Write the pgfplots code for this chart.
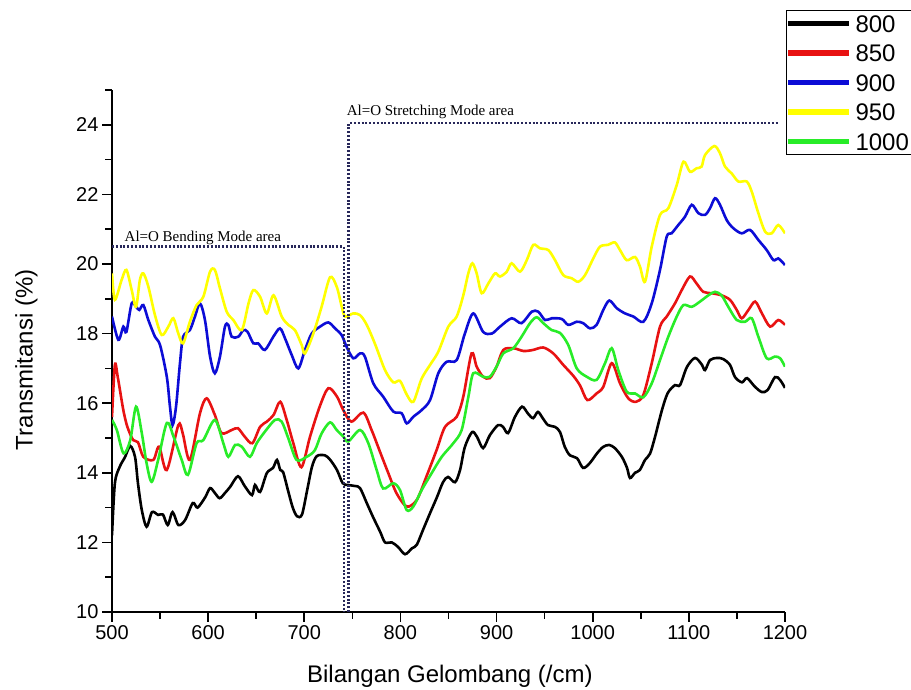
\documentclass[border=0pt]{standalone}
\usepackage{fontspec}
\setmainfont{Liberation Sans}
\newfontfamily\timesfont{Liberation Serif}
\usepackage{pgfplots}
\pgfplotsset{compat=1.18}
\definecolor{c800}{RGB}{0,0,0}
\definecolor{c850}{RGB}{232,18,18}
\definecolor{c900}{RGB}{12,12,214}
\definecolor{c950}{RGB}{255,255,0}
\definecolor{c1000}{RGB}{40,236,40}
\definecolor{dotc}{RGB}{40,40,90}
\begin{document}
\begin{tikzpicture}[x=1pt,y=1pt]
\useasboundingbox (0,0) rectangle (911,690);
\begin{axis}[
  at={(112pt,78pt)}, anchor=south west,
  scale only axis, width=673pt, height=522pt,
  xmin=500, xmax=1200, ymin=10, ymax=25,
  axis x line*=bottom, axis y line*=left,
  axis line style={line width=1.9pt, -},
  xtick={500,600,...,1200}, minor xtick={550,650,...,1150},
  ytick={10,12,...,24}, minor ytick={11,13,...,25},
  tick align=outside, major tick length=10pt, minor tick length=7pt,
  every tick/.style={line width=1.7pt, black},
  minor tick style={line width=1.7pt, black},
  ticklabel style={font=\fontsize{20}{20}\selectfont},
  /pgf/number format/assume math mode=true,
  /pgf/number format/1000 sep={},
  xlabel={Bilangan Gelombang (/cm)},
  ylabel={Transmitansi (\%)},
  label style={font=\fontsize{24}{24}\selectfont},
  xlabel style={at={(axis description cs:0.502,-0.136)}, anchor=base},
  ylabel style={at={(axis description cs:-0.118,0.483)}, anchor=base, rotate=0},
  legend cell align=left,
  legend image code/.code={\fill[#1] (0pt,-1.4pt) rectangle (58pt,1.4pt);},
  legend style={at={(1.0015,0.8755)}, anchor=south west, draw=black, line width=0.8pt,
    font=\fontsize{24}{24}\selectfont, inner xsep=2pt, inner ysep=3pt,
    row sep=9.5pt,
    nodes={inner sep=1.5pt, text height=17pt, text depth=0pt},
    /tikz/every odd column/.append style={column sep=5pt}},
  every axis plot/.append style={line width=2.6pt},
]
\addplot[c800, smooth, tension=0.5] coordinates {
(500,12.2) (503,13.7) (508,14.17) (513.5,14.45) (519,14.77) (524,14.45) (527,13.7) (531,12.93) (536,12.45) (541.6,12.87) (548,12.79) (553,12.8) (558,12.5) (563,12.87) (569,12.5) (576,12.64) (584,13.13) (589,13.0) (597,13.3) (602,13.56) (607,13.42) (612,13.27) (617.5,13.42) (623,13.6) (631,13.9) (638,13.62) (645.6,13.36) (648.7,13.65) (654,13.45) (661,13.99) (667.5,14.14) (671.6,14.37) (675,14.08) (678,14.02) (683,13.5) (688,13.0) (692.5,12.75) (697.6,12.8) (703,13.5) (708,14.17) (713,14.48) (721.6,14.5) (727,14.37) (734,14.08) (740,13.7) (745.5,13.65) (752.8,13.62) (758,13.56) (765,13.13) (771.5,12.73) (779,12.3) (784,12.0) (791,12.0) (797.5,11.87) (804.8,11.66) (812,11.83) (817,11.93) (823.5,12.36) (830.8,12.84) (838,13.3) (844.3,13.73) (849.5,13.88) (856.8,13.73) (862,14.08) (867,14.74) (874.5,15.17) (879.7,15.03) (886,14.71) (893,15.08) (901.5,15.37) (906.7,15.32) (912,15.14) (919,15.6) (926.5,15.9) (932.7,15.7) (938,15.57) (943,15.75) (948,15.57) (953.5,15.37) (960.8,15.32) (966,15.17) (971,14.74) (976.4,14.5) (983.7,14.42) (990,14.14) (997,14.28) (1004.5,14.56) (1010.7,14.74) (1017,14.8) (1023,14.71) (1030.5,14.45) (1035.7,14.14) (1038.8,13.85) (1044,14.0) (1049,14.08) (1054.4,14.37) (1059.6,14.55) (1064.8,15.03) (1072,15.8) (1078,16.29) (1085.6,16.52) (1090.8,16.52) (1098,17.04) (1106.4,17.3) (1113.7,17.1) (1116.8,16.95) (1122,17.24) (1129.3,17.3) (1135.6,17.27) (1142.8,17.1) (1148,16.75) (1155.3,16.6) (1160.5,16.72) (1168.8,16.47) (1176,16.32) (1182,16.38) (1189.6,16.75) (1194.8,16.67) (1200,16.44)
};
\addlegendentry{800}
\addplot[c850, smooth, tension=0.5] coordinates {
(500,15.6) (503,17.1) (506,16.75) (511.8,15.8) (516,15.32) (522,14.94) (527,14.88) (532.6,14.46) (543,14.37) (549,14.75) (557,14.08) (569,15.37) (573.5,15.14) (581,14.37) (591.5,15.71) (598.5,16.14) (607,15.66) (614,15.14) (624.5,15.23) (631,15.28) (638,15.04) (646,14.85) (654,15.32) (661,15.47) (668,15.66) (675,16.04) (681.7,15.52) (688.6,14.85) (697,14.16) (706,15.04) (716,15.9) (725,16.43) (734,16.19) (740.6,15.8) (749,15.47) (761.4,15.73) (770,15.23) (778.8,14.6) (787.4,13.99) (796,13.41) (806.5,13.03) (817,13.22) (827,13.89) (837.7,14.66) (846.4,15.32) (858.5,15.61) (865.4,16.19) (874,17.43) (879.3,17.05) (886,16.76) (893,16.72) (900,17.05) (907,17.53) (917.4,17.58) (928,17.5) (938,17.53) (948.6,17.6) (959,17.43) (969.4,17.1) (980,16.78) (987,16.5) (994.4,16.09) (1004,16.28) (1011,16.47) (1019.8,17.15) (1028.4,16.57) (1037,16.14) (1045,16.04) (1052.7,16.24) (1061.4,17.15) (1070,18.2) (1077,18.49) (1085.6,18.87) (1092.6,19.25) (1101.2,19.64) (1108,19.44) (1115,19.2) (1123.8,19.16) (1134,19.1) (1142.8,18.97) (1149.8,18.68) (1155,18.44) (1162,18.68) (1169,18.92) (1176,18.58) (1184.5,18.2) (1193,18.39) (1200,18.25)
};
\addlegendentry{850}
\addplot[c900, smooth, tension=0.5] coordinates {
(500,18.49) (506.6,17.82) (511.8,18.2) (515,18.05) (520.5,18.87) (525,18.77) (528.4,18.68) (532.6,18.82) (537.8,18.39) (544.7,17.91) (550,17.67) (557,16.76) (560.3,15.9) (563,15.37) (566.6,15.9) (570.7,17.15) (574,17.91) (581,18.1) (586.3,18.49) (591.5,18.87) (596.7,18.39) (602,17.34) (607,16.86) (612.3,17.34) (617.5,18.2) (621,18.25) (624.5,17.91) (631.4,17.91) (636.6,18.1) (641,18.05) (647,17.72) (652,17.72) (659,17.53) (667.8,17.91) (674.7,18.15) (680,17.86) (687,17.38) (693.8,17.0) (700.7,17.53) (707.7,18.0) (716.4,18.2) (725,18.32) (732,18.15) (739,17.95) (744,17.62) (751,17.29) (758,17.43) (763,17.34) (771.8,16.57) (782,16.19) (792.6,15.76) (801.3,15.71) (806.5,15.42) (813.4,15.61) (822,15.8) (830.8,16.09) (839.4,16.86) (848,17.19) (858.5,17.24) (867,18.0) (875.8,18.58) (886,18.05) (895,18.0) (903.6,18.2) (915.7,18.44) (926,18.3) (936.6,18.63) (943.4,18.63) (950.4,18.39) (957.4,18.44) (967.8,18.42) (974.6,18.25) (983.4,18.34) (990,18.3) (997.2,18.15) (1004,18.25) (1011,18.68) (1017.3,18.95) (1025,18.73) (1033.6,18.58) (1042.3,18.49) (1052.7,18.34) (1061.4,18.87) (1070,19.83) (1077,20.79) (1082,20.88) (1089,21.12) (1096,21.36) (1103,21.7) (1109.9,21.46) (1116.8,21.41) (1122,21.6) (1127.2,21.89) (1132.4,21.7) (1139.4,21.26) (1146.2,21.03) (1155,20.88) (1163.6,20.98) (1172.3,20.69) (1181,20.4) (1188,20.11) (1193,20.16) (1200,19.97)
};
\addlegendentry{900}
\addplot[c950, smooth, tension=0.5] coordinates {
(500,19.73) (503,18.97) (510,19.54) (515,19.83) (520.5,19.25) (525,18.77) (529,19.54) (532.6,19.73) (537.8,19.35) (544.7,18.53) (551.7,17.96) (558.6,18.2) (563.8,18.44) (569,18.0) (574,17.72) (581,18.34) (588,18.82) (595,19.06) (602,19.78) (607,19.83) (612.3,19.3) (619.3,18.63) (626.2,18.39) (635,18.1) (642,18.87) (647,19.25) (654,19.06) (661,18.58) (668,19.1) (676.5,18.49) (683.4,18.25) (690.3,18.1) (697.3,17.67) (700.7,17.43) (709.4,18.0) (718,18.77) (726.8,19.62) (733.7,19.35) (739,18.77) (742.4,18.49) (751,18.58) (758,18.53) (765,18.25) (773.6,17.7) (784,16.95) (792.6,16.6) (799.6,16.64) (806.5,16.25) (813.4,16.04) (822,16.7) (830.8,17.1) (839.4,17.48) (849.8,18.2) (858.5,18.49) (865.4,19.1) (870.6,19.73) (874.8,20.02) (879.3,19.73) (884.5,19.16) (891.4,19.44) (898.4,19.73) (903.6,19.64) (910.6,19.78) (915.7,20.02) (924.4,19.78) (931.4,20.11) (938.2,20.55) (945.2,20.45) (953.8,20.4) (960.8,20.11) (969.4,19.68) (978.2,19.59) (985,19.49) (992,19.68) (1000.6,20.16) (1007.6,20.5) (1016,20.55) (1023,20.62) (1028.4,20.4) (1035.4,20.11) (1044,20.2) (1049.2,19.92) (1054.4,19.49) (1061.4,20.5) (1070,21.41) (1078.6,21.6) (1087.4,22.27) (1094.4,22.94) (1101.2,22.65) (1108,22.75) (1113.3,22.8) (1116.8,23.13) (1126.5,23.39) (1132.4,23.18) (1137.6,22.8) (1144.6,22.6) (1151.5,22.37) (1160.2,22.37) (1165.4,22.08) (1172.3,21.46) (1179.3,20.93) (1186.2,20.88) (1193,21.12) (1200,20.88)
};
\addlegendentry{950}
\addplot[c1000, smooth, tension=0.5] coordinates {
(500,15.52) (505,15.23) (512,14.56) (519,14.94) (525,15.9) (531,15.14) (536,14.27) (541.3,13.74) (548,14.37) (557,15.43) (564,15.04) (572.5,14.37) (579,13.94) (588,14.85) (595,14.94) (607,15.52) (615.8,14.85) (621,14.46) (628,14.8) (635,14.75) (643.5,14.46) (650.5,14.85) (659,15.18) (669.5,15.52) (676.5,15.47) (683.4,14.99) (692,14.37) (702.5,14.46) (711,14.65) (718,15.13) (726.8,15.45) (733.7,15.23) (740.6,15.04) (745.8,14.9) (758,15.23) (766.6,14.85) (775.3,14.08) (782,13.55) (792.6,13.7) (799.6,13.5) (806.5,12.93) (813.4,13.03) (822,13.5) (832.5,13.99) (843,14.46) (855,14.85) (863.7,15.23) (870.7,16.19) (875.8,16.86) (886,16.76) (893,16.76) (900,17.05) (907,17.43) (917.4,17.58) (926,17.91) (934.8,18.3) (941.7,18.47) (948.6,18.3) (957.4,18.1) (966,18.02) (974.6,17.67) (983.4,17.0) (993.8,16.76) (1004,16.67) (1012.8,17.15) (1019.8,17.58) (1026.6,16.95) (1035.4,16.33) (1044,16.28) (1052.7,16.17) (1061.4,16.57) (1070,17.24) (1078.6,17.91) (1087.4,18.49) (1094.4,18.82) (1103,18.77) (1111.6,18.92) (1120.3,19.1) (1127.2,19.2) (1134,19.1) (1141,18.77) (1149.8,18.39) (1158.4,18.34) (1165.4,18.44) (1172.3,17.91) (1181,17.29) (1189.6,17.34) (1195,17.29) (1200,17.05)
};
\addlegendentry{1000}
\addplot[dotc, line width=2.2pt, dash pattern={on 2pt off 1.8pt}, forget plot] coordinates {(500,20.5) (741,20.5) (741,10)};
\addplot[dotc, line width=2.2pt, dash pattern={on 2pt off 1.8pt}, forget plot] coordinates {(746,10) (746,24.04) (1193,24.04)};
\node[anchor=base west, inner sep=0pt, font=\timesfont\fontsize{15}{15}\selectfont] at (axis cs:513,20.66) {Al=O Bending Mode area};
\node[anchor=base west, inner sep=0pt, font=\timesfont\fontsize{15}{15}\selectfont] at (axis cs:744,24.28) {Al=O Stretching Mode area};
\end{axis}
\end{tikzpicture}
\end{document}
